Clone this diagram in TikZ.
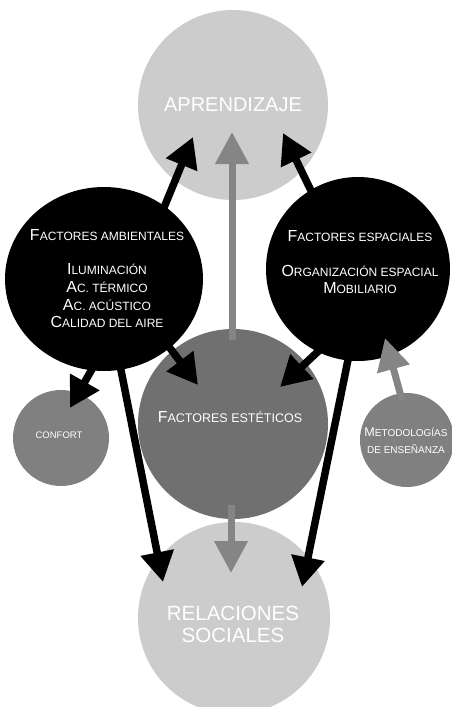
\documentclass[tikz,border=0pt]{standalone}
\usepackage{fontspec}
\setmainfont{Liberation Sans}
\usetikzlibrary{arrows.meta,shapes.geometric}
\newcommand\fsc[2]{{\fontsize{#1}{#1}\selectfont #2}}
\definecolor{lightg}{gray}{0.80}
\definecolor{esteg}{gray}{0.44}
\definecolor{smallg}{gray}{0.50}
\definecolor{arrowg}{gray}{0.52}
\begin{document}
\begin{tikzpicture}[x=1pt,y=-1pt,
  bubble/.style={circle, inner sep=0pt, minimum size=#1},
  blackarrow/.style={line width=7.5pt, black, -{Triangle[length=30pt,width=32pt]}},
  grayarrow/.style={line width=7pt, arrowg, -{Triangle[length=32pt,width=32pt]}},
  txtw/.style={text=white, align=center, inner sep=0pt}]
\useasboundingbox (0,0) rectangle (452,707);
\fill[white] (0,0) rectangle (452,707);
% circles
\node[bubble=190pt, fill=lightg] (apr) at (233,105) {};
\node[bubble=192pt, fill=lightg] (rel) at (234,618) {};
\node[bubble=190pt, fill=esteg] (est) at (233,424) {};
\node[ellipse, inner sep=0pt, minimum width=198pt, minimum height=184pt, fill=black] (amb) at (104,279) {};
\node[bubble=184pt, fill=black] (esp) at (358,269) {};
\node[bubble=96pt, fill=smallg] (conf) at (61,438) {};
\node[bubble=94pt, fill=smallg] (met) at (407,440) {};
% arrow end points
\coordinate (a1s) at (163,210); \coordinate (a1e) at (193,137);
\coordinate (a2s) at (318,205); \coordinate (a2e) at (283,133);
\coordinate (a3s) at (232,340); \coordinate (a3e) at (232,132);
\coordinate (a4s) at (231,505); \coordinate (a4e) at (231,573);
\coordinate (a5s) at (117,350); \coordinate (a5e) at (163,582);
\coordinate (a6s) at (350,350); \coordinate (a6e) at (302,587);
\coordinate (a7s) at (100,355); \coordinate (a7e) at (70,408);
\coordinate (a8s) at (160,335); \coordinate (a8e) at (198,385);
\coordinate (a9s) at (325,345); \coordinate (a9e) at (280,387);
\coordinate (a10s) at (402,400); \coordinate (a10e) at (385,338);
% arrows
\draw[grayarrow] (a3s) -- (a3e);
\draw[grayarrow] (a4s) -- (a4e);
\draw[grayarrow] (a10s) -- (a10e);
\draw[blackarrow] (a1s) -- (a1e);
\draw[blackarrow] (a2s) -- (a2e);
\draw[blackarrow] (a5s) -- (a5e);
\draw[blackarrow] (a6s) -- (a6e);
\draw[blackarrow] (a7s) -- (a7e);
\draw[blackarrow] (a8s) -- (a8e);
\draw[blackarrow] (a9s) -- (a9e);
% texts
\node[txtw, font=\fontsize{20}{24}\selectfont] (aprt) at (233,105) {APRENDIZAJE};
\node[txtw, font=\fontsize{20.5}{22}\selectfont] (relt) at (233,624) {RELACIONES\\SOCIALES};
\node[txtw, font=\fontsize{16}{17.7}\selectfont] (ambt) at (107,279)
  {F\fsc{12}{ACTORES AMBIENTALES}\\[16.3pt]
   I\fsc{12}{LUMINACIÓN}\\
   A\fsc{12}{C. TÉRMICO}\\
   A\fsc{12}{C. ACÚSTICO}\\
   C\fsc{12}{ALIDAD DEL AIRE}};
\node[txtw, font=\fontsize{16}{16.5}\selectfont] (espt) at (360,262)
  {F\fsc{12}{ACTORES ESPACIALES}\\[18.5pt]
   O\fsc{12}{RGANIZACIÓN ESPACIAL}\\
   M\fsc{12}{OBILIARIO}};
\node[txtw, font=\fontsize{16}{18}\selectfont] (estt) at (230,417)
  {F\fsc{12.5}{ACTORES ESTÉTICOS}};
\node[txtw, font=\fontsize{9.5}{11}\selectfont] (conft) at (59,435) {CONFORT};
\node[txtw, font=\fontsize{12.5}{17}\selectfont] (mett) at (406,441)
  {M\fsc{10}{ETODOLOGÍAS}\\
   \fsc{10}{DE ENSEÑANZA}};
\end{tikzpicture}
\end{document}
